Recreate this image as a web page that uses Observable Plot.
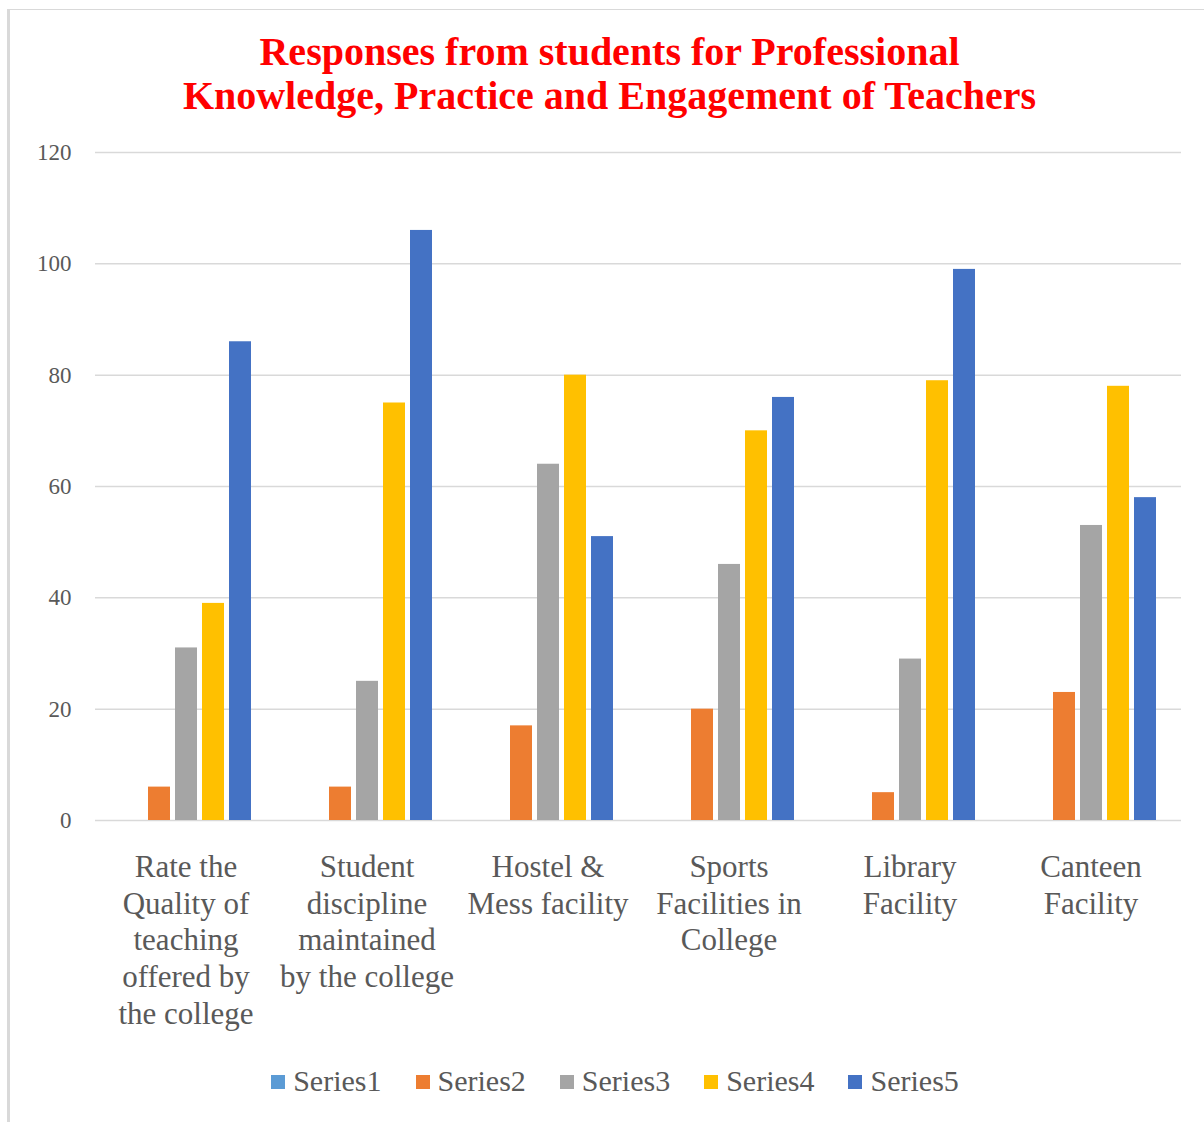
<!DOCTYPE html>
<html>
<head>
<meta charset="utf-8">
<script src="https://cdn.jsdelivr.net/npm/d3@7"></script>
<script src="https://cdn.jsdelivr.net/npm/@observablehq/plot@0.6"></script>
<style>
  html, body { margin: 0; padding: 0; background: #fff; overflow: hidden; }
  #frame { position: absolute; left: 7px; top: 9px; width: 1210px; height: 1130px;
           border-left: 3px solid #d9d9d9; border-top: 1px solid #d9d9d9; }
  #title { position: absolute; left: 0; width: 1219px; top: 30px; text-align: center;
           font-family: "Liberation Serif", serif; font-weight: bold; font-size: 40px;
           line-height: 44px; color: #ff0000; }
  #chart { position: absolute; left: 10px; top: 130px; }
  #legend { position: absolute; left: 0; width: 1230px; top: 1064px; text-align: center;
            font-family: "Liberation Serif", serif; font-size: 30px; color: #595959; white-space: nowrap; }
  .item { display: inline-block; margin: 0 17px; }
  .sw { display: inline-block; width: 14px; height: 14px; margin-right: 8px; vertical-align: 2px; }
</style>
</head>
<body>
<div id="frame"></div>
<div id="title">Responses from students for Professional<br>Knowledge, Practice and Engagement of Teachers</div>
<div id="chart"></div>
<div id="legend"></div>
<script>
const categories = [
  "Rate the Quality of teaching offered by the college",
  "Student discipline maintained by the college",
  "Hostel & Mess facility",
  "Sports Facilities in College",
  "Library Facility",
  "Canteen Facility"
];
const categoryLabels = [
  "Rate the\nQuality of\nteaching\noffered by\nthe college",
  "Student\ndiscipline\nmaintained\nby the college",
  "Hostel &\nMess facility",
  "Sports\nFacilities in\nCollege",
  "Library\nFacility",
  "Canteen\nFacility"
];
const seriesNames = ["Series1", "Series2", "Series3", "Series4", "Series5"];
const series1 = [0, 0, 0, 0, 0, 0];
const series2 = [6, 6, 17, 20, 5, 23];
const series3 = [31, 25, 64, 46, 29, 53];
const series4 = [39, 75, 80, 70, 79, 78];
const series5 = [86, 106, 51, 76, 99, 58];
const seriesColors = ["#5b9bd5", "#ed7d31", "#a5a5a5", "#ffc000", "#4472c4"];
const yTicks = [0, 20, 40, 60, 80, 100, 120];

const allSeries = [series1, series2, series3, series4, series5];
const data = [];
categories.forEach((c, i) => {
  seriesNames.forEach((s, j) => {
    data.push({category: c, series: s, value: allSeries[j][i]});
  });
});
const labelOf = new Map(categories.map((c, i) => [c, categoryLabels[i]]));

const chart = Plot.plot({
  width: 1194,
  height: 920,
  marginLeft: 84,
  marginRight: 21,
  marginTop: 22,
  marginBottom: 230,
  style: {fontFamily: "Liberation Serif, serif", background: "transparent"},
  fx: {domain: categories, paddingInner: 0.265, paddingOuter: 0.1326, label: null},
  x: {domain: seriesNames, paddingInner: 0.2, paddingOuter: 0, axis: null},
  y: {domain: [0, 120], label: null},
  color: {domain: seriesNames, range: seriesColors},
  marks: [
    Plot.ruleY(yTicks, {stroke: "#d9d9d9", strokeWidth: 1.5, insetLeft: -24, insetRight: -24}),
    Plot.barY(data, {fx: "category", x: "series", y: "value", fill: "series"}),
    Plot.axisY({ticks: yTicks, tickSize: 0, tickPadding: 48, fontSize: 23, fill: "#595959", label: null}),
    Plot.axisFx({anchor: "bottom", tickSize: 0, tickPadding: 30, fontSize: 31, lineHeight: 1.19, fill: "#595959",
                 label: null, tickFormat: d => labelOf.get(d)})
  ]
});
document.getElementById("chart").appendChild(chart);

const legend = document.getElementById("legend");
seriesNames.forEach((s, i) => {
  const item = document.createElement("span");
  item.className = "item";
  const sw = document.createElement("span");
  sw.className = "sw";
  sw.style.background = seriesColors[i];
  item.appendChild(sw);
  item.appendChild(document.createTextNode(s));
  legend.appendChild(item);
});
</script>
</body>
</html>
